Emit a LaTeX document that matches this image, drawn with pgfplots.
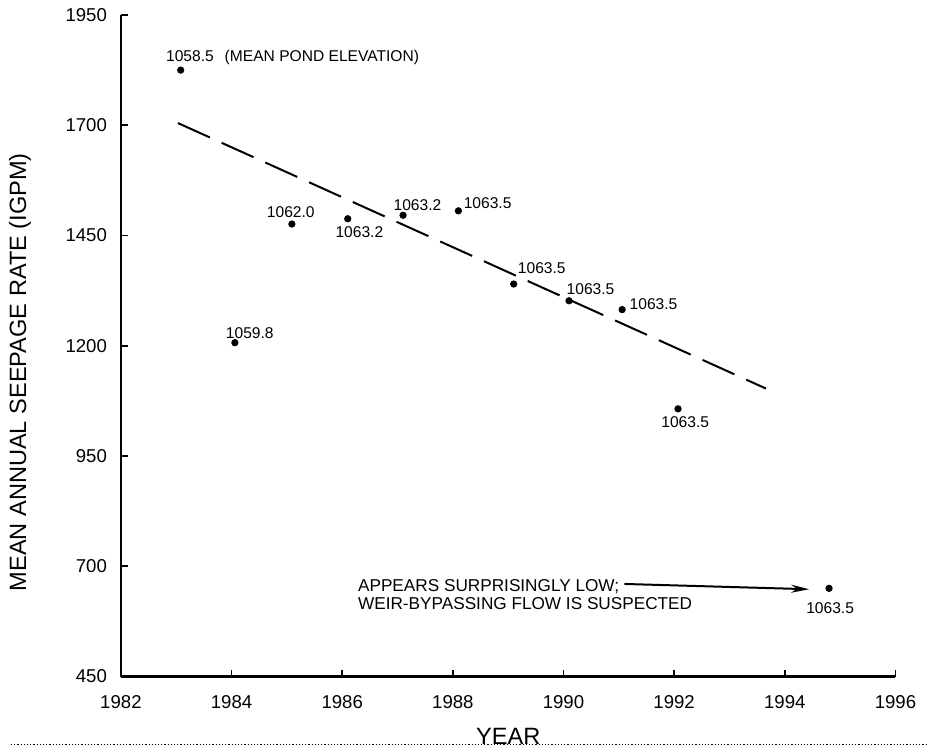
\documentclass[border=0pt]{standalone}
\usepackage{pgfplots}
\pgfplotsset{compat=1.18}
\usepackage{fontspec}
\setmainfont{Liberation Sans}
\usetikzlibrary{arrows.meta}

\begin{document}
\begin{tikzpicture}
\begin{axis}[
    scale only axis,
    width=387.5pt, height=331pt,
    xmin=1982, xmax=1996,
    ymin=450, ymax=1950,
    axis lines=left,
    axis line style={-, line width=1.3pt},
    xtick={1982,1984,...,1996},
    ytick={450,700,...,1950},
    tick align=inside,
    major tick length=3.5pt,
    tick style={line width=0.9pt, black},
    /pgf/number format/assume math mode=true,
    /pgf/number format/set thousands separator={},
    tick label style={font=\fontsize{9.3}{10}\selectfont},
    xticklabel style={yshift=-6pt},
    yticklabel style={xshift=-3.5pt},
    xlabel={YEAR},
    ylabel={MEAN ANNUAL SEEPAGE RATE (IGPM)},
    label style={font=\fontsize{11.8}{13}\selectfont},
    xlabel style={at={(axis description cs:0.5,-0.0906)}, anchor=center},
    ylabel style={at={(axis description cs:-0.1303,0.46)}, anchor=center},
    clip=false,
]
% mean annual seepage
\addplot[only marks, mark=*, mark size=1.6pt, black] coordinates {
    (1983.08,1825) (1984.06,1207) (1985.09,1476) (1986.10,1488)
    (1987.10,1496) (1988.10,1506) (1989.10,1340) (1990.10,1302)
    (1991.06,1282) (1992.07,1057) (1994.80,650)
};
% trend line
\addplot[black, line width=1pt, dash pattern=on 17.5pt off 6.5pt] coordinates {
    (1983.03,1705) (1993.66,1103)
};

% pond elevations
\begin{scope}[every node/.style={font=\fontsize{7.8}{9}\selectfont, inner sep=0pt}]
\node[anchor=west] at (axis cs:1982.81,1853) {1058.5\hspace{0.7em}(MEAN POND ELEVATION)};
\node at (axis cs:1984.33,1229) {1059.8};
\node at (axis cs:1985.07,1504) {1062.0};
\node at (axis cs:1986.31,1458) {1063.2};
\node at (axis cs:1987.36,1520) {1063.2};
\node[anchor=west] at (axis cs:1988.19,1524) {1063.5};
\node[anchor=west] at (axis cs:1989.17,1377) {1063.5};
\node[anchor=west] at (axis cs:1990.05,1329) {1063.5};
\node[anchor=west] at (axis cs:1991.19,1295) {1063.5};
\node at (axis cs:1992.20,1026) {1063.5};
\node at (axis cs:1994.82,606) {1063.5};
\end{scope}

\node[anchor=west, align=left, inner sep=0pt, font=\fontsize{8.6}{9}\selectfont]
    at (axis cs:1986.28,636) {APPEARS SURPRISINGLY LOW;\\WEIR-BYPASSING FLOW IS SUSPECTED};
\draw[line width=1pt, -{Stealth[length=9pt,width=4pt]}]
    (axis cs:1991.10,660) -- (axis cs:1994.44,648);
\end{axis}

% scan edge
\draw[densely dotted, line width=0.6pt] ([shift={(-55pt,-34pt)}]current axis.south west)
    -- ([shift={(16pt,-34pt)}]current axis.south east);
\path ([shift={(-60.5pt,-36pt)}]current axis.south west)
    rectangle ([shift={(16pt,7.5pt)}]current axis.north east);
\end{tikzpicture}
\end{document}
